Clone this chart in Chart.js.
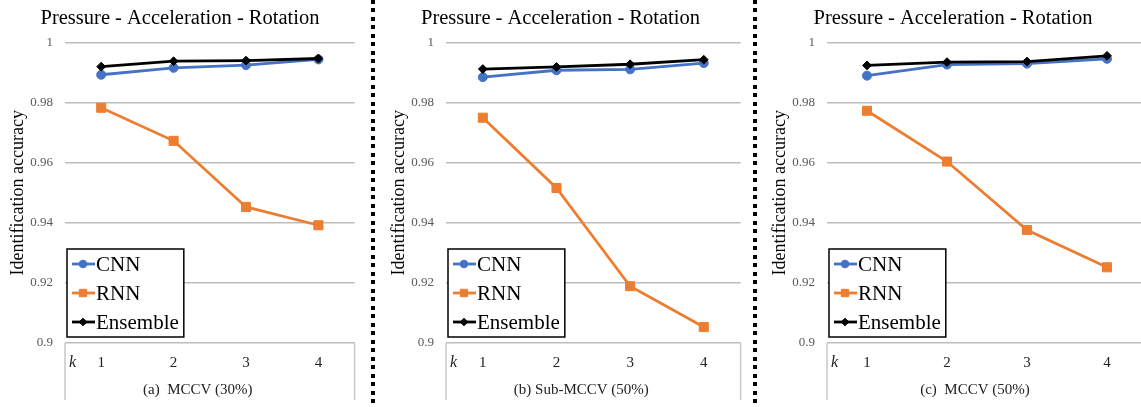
<!DOCTYPE html>
<html>
<head>
<meta charset="utf-8">
<script src="https://cdn.jsdelivr.net/npm/chart.js@4.4.1/dist/chart.umd.min.js"></script>
<style>
  html, body { margin: 0; padding: 0; background: #fff; width: 1141px; height: 407px; overflow: hidden; position: relative; }
  canvas { position: absolute; top: 0; }
  .sep {
    position: absolute; top: 0; width: 4px; height: 407px;
    background: repeating-linear-gradient(to bottom, #000 0 4px, transparent 4px 8.5px);
  }
</style>
</head>
<body>
<canvas id="chartA" width="362" height="407" style="left:0px"></canvas>
<div class="sep" style="left:371px"></div>
<canvas id="chartB" width="370" height="407" style="left:378px"></canvas>
<div class="sep" style="left:753px"></div>
<canvas id="chartC" width="396" height="407" style="left:759px"></canvas>
<script>
const kValues = ["1", "2", "3", "4"];
const titleText = "Pressure - Acceleration - Rotation";
const yTitle = "Identification accuracy";
const seriesNames = ["CNN", "RNN", "Ensemble"];
const yMin = 0.9, yMax = 1, yStep = 0.02;

// (a) MCCV (30%)
const cnnA = [0.9893, 0.9916, 0.9925, 0.9944];
const rnnA = [0.9783, 0.9673, 0.9453, 0.9392];
const ensA = [0.9920, 0.9938, 0.9940, 0.9947];

// (b) Sub-MCCV (50%)
const cnnB = [0.9885, 0.9908, 0.9911, 0.9932];
const rnnB = [0.9750, 0.9516, 0.9189, 0.9053];
const ensB = [0.9912, 0.9919, 0.9928, 0.9943];

// (c) MCCV (50%)
const cnnC = [0.9890, 0.9927, 0.9930, 0.9946];
const rnnC = [0.9773, 0.9604, 0.9376, 0.9252];
const ensC = [0.9924, 0.9935, 0.9937, 0.9956];

const serif = '"Liberation Serif", "Times New Roman", serif';
Chart.defaults.font.family = serif;

const colors = ["#4472C4", "#ED7D31", "#000000"];
const styles = [
  { pointStyle: "circle", pointRadius: 4.5, legendRadius: 3.8 },
  { pointStyle: "rect", pointRadius: 6.4, legendRadius: 5.2 },
  { pointStyle: "rectRot", pointRadius: 4.4, legendRadius: 3.8 }
];

// k label, caption, side lines of the category block and the boxed legend
const panelExtras = {
  id: "panelExtras",
  afterDraw(chart, args, opts) {
    const { ctx, chartArea: a } = chart;
    ctx.save();

    ctx.strokeStyle = "#c8c8c8";
    ctx.lineWidth = 1.5;
    ctx.beginPath();
    ctx.moveTo(a.left, a.bottom);
    ctx.lineTo(a.left, a.bottom + 57);
    ctx.moveTo(a.right, a.bottom);
    ctx.lineTo(a.right, a.bottom + 57);
    ctx.stroke();

    ctx.fillStyle = "#222";
    ctx.textBaseline = "middle";
    ctx.textAlign = "left";
    ctx.font = "italic 16px " + serif;
    ctx.fillText("k", a.left + 4, a.bottom + 20);

    ctx.textAlign = "center";
    ctx.font = "15px " + serif;
    ctx.fillText(opts.caption, (a.left + a.right) / 2 - 12, a.bottom + 47);

    // legend
    ctx.font = "21px " + serif;
    const sets = chart.data.datasets;
    const textW = Math.max(...sets.map(d => ctx.measureText(d.label).width));
    const lw = textW + 34, lh = 88;
    const lx = a.left + 2, ly = a.bottom - 6 - lh;
    ctx.fillStyle = "#fff";
    ctx.fillRect(lx, ly, lw, lh);
    ctx.strokeStyle = "#000";
    ctx.lineWidth = 1.5;
    ctx.strokeRect(lx, ly, lw, lh);

    sets.forEach((d, i) => {
      const y = ly + 15 + i * 29;
      ctx.strokeStyle = d.borderColor;
      ctx.fillStyle = d.borderColor;
      ctx.lineWidth = 2.8;
      ctx.beginPath();
      ctx.moveTo(lx + 5, y);
      ctx.lineTo(lx + 28, y);
      ctx.stroke();
      ctx.lineWidth = 1;
      Chart.helpers.drawPoint(ctx, {
        pointStyle: d.pointStyle, radius: d.legendRadius, borderWidth: 1, rotation: 0
      }, lx + 16, y);
      ctx.fillStyle = "#000";
      ctx.textAlign = "left";
      ctx.fillText(d.label, lx + 29, y + 1);
    });

    ctx.restore();
  }
};

function makeChart(id, series, caption, axisW, titlePad, padRight) {
  const datasets = series.map((vals, i) => ({
    label: seriesNames[i],
    data: vals,
    borderColor: colors[i],
    backgroundColor: colors[i],
    borderWidth: 2.8,
    pointStyle: styles[i].pointStyle,
    pointRadius: styles[i].pointRadius,
    pointBorderWidth: 1,
    legendRadius: styles[i].legendRadius,
    tension: 0,
    order: 3 - i
  }));

  return new Chart(document.getElementById(id), {
    type: "line",
    data: { labels: kValues, datasets: datasets },
    plugins: [panelExtras],
    options: {
      responsive: false,
      animation: false,
      events: [],
      layout: { padding: { left: 0, right: padRight, top: 0, bottom: 0 } },
      plugins: {
        legend: { display: false },
        tooltip: { enabled: false },
        title: {
          display: true,
          text: titleText,
          color: "#000",
          font: { size: 20.5, weight: "normal" },
          padding: { top: 6, bottom: 12 }
        },
        panelExtras: { caption: caption }
      },
      scales: {
        x: {
          offset: true,
          grid: { display: false, drawTicks: false },
          border: { display: false },
          ticks: { color: "#222", font: { size: 15 }, padding: 11 },
          afterFit(scale) { scale.height = 64; }
        },
        y: {
          min: yMin,
          max: yMax,
          grid: { color: "#bdbdbd", lineWidth: 1.5, drawTicks: false },
          border: { display: false },
          ticks: {
            stepSize: yStep,
            color: "#595959",
            font: { size: 13 },
            padding: 12,
            callback: v => String(+v.toFixed(2))
          },
          title: {
            display: true,
            text: yTitle,
            color: "#000",
            font: { size: 18 },
            padding: { top: titlePad + 1, bottom: 0 }
          },
          afterFit(scale) { scale.width = axisW; }
        }
      }
    }
  });
}

makeChart("chartA", [cnnA, rnnA, ensA], "(a)  MCCV (30%)", 65, 6, 2);
makeChart("chartB", [cnnB, rnnB, ensB], "(b) Sub-MCCV (50%)", 68, 9, 5);
makeChart("chartC", [cnnC, rnnC, ensC], "(c)  MCCV (50%)", 68, 9, 8);
</script>
</body>
</html>
